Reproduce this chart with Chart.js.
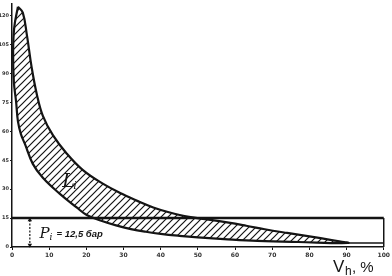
<!DOCTYPE html>
<html>
<head>
<meta charset="utf-8">
<title>Li vs Vh</title>
<script src="https://cdn.jsdelivr.net/npm/chart.js@4"></script>
<style>
  html, body { margin: 0; padding: 0; background: #fff; }
  #wrap { position: relative; width: 392px; height: 276px; }
</style>
</head>
<body>
<div id="wrap"><canvas id="chart"></canvas></div>
<script>
// ============================================================================
// Data
// ============================================================================

// upper / right boundary of the hatched band, from the peak downwards
const OUTER_X = [1.6, 2.9, 4.0, 5.3, 6.7, 8.3, 11.0, 14.7, 19.0, 24.3, 29.7, 34.2, 38.0, 42.2, 47.6, 52.9, 58.3, 63.0, 68.0, 74.0, 80.0, 86.0, 90.4];
const OUTER_Y = [124.6, 121.5, 110.0, 93.0, 79.0, 68.0, 58.0, 48.5, 40.0, 33.0, 27.5, 23.5, 20.5, 18.0, 15.6, 14.2, 12.6, 11.0, 9.2, 7.3, 5.5, 3.6, 2.1];

// lower / left boundary, from the peak downwards
const INNER_X = [1.6, 0.6, 0.3, 0.5, 1.1, 1.6, 2.4, 3.5, 5.6, 8.3, 12.8, 17.4, 20.1, 24.0, 28.0, 32.0, 36.0, 40.0, 45.0, 50.0, 58.0, 66.0, 77.0, 90.4];
const INNER_Y = [124.6, 113.8, 101.0, 85.6, 75.4, 65.1, 58.5, 53.3, 43.1, 35.9, 27.7, 20.5, 16.6, 13.6, 11.2, 9.3, 7.9, 6.8, 5.8, 5.0, 4.0, 3.2, 2.6, 2.1];

// flat tail after the band closes
const TAIL_X = [90.4, 100];
const TAIL_Y = [2.1, 2.1];

// indicated pressure level and its right-hand closing edge
const LEVEL_Y = 15;
const LEVEL_X = [0, 100];

// dimension arrow under the level line
const ARROW_X = 4.8;

const X_TICKS = [0, 10, 20, 30, 40, 50, 60, 70, 80, 90, 100];
const Y_TICKS = [0, 15, 30, 45, 60, 75, 90, 105, 120];

const INK = '#141414';

// ============================================================================
// Helpers
// ============================================================================

const zip = (xs, ys) => xs.map((x, i) => ({ x, y: ys[i] }));

// closed outline: outer curve down, inner curve back up
const bandShape = () => {
    const outer = zip(OUTER_X, OUTER_Y);
    const inner = zip(INNER_X, INNER_Y).reverse().slice(1);
    return outer.concat(inner);
};

const makeHatch = () => {
    const s = 7;
    const c = document.createElement('canvas');
    c.width = s; c.height = s;
    const g = c.getContext('2d');
    g.strokeStyle = INK;
    g.lineWidth = 1.2;
    g.beginPath();
    g.moveTo(0, s); g.lineTo(s, 0);
    g.moveTo(-1, 1); g.lineTo(1, -1);
    g.moveTo(s - 1, s + 1); g.lineTo(s + 1, s - 1);
    g.stroke();
    return g.createPattern(c, 'repeat');
};

// labels drawn in data coordinates
const labelPlugin = {
    id: 'labels',
    afterDatasetsDraw(chart) {
        const { ctx, scales: { x, y } } = chart;
        ctx.save();
        ctx.fillStyle = INK;
        ctx.textBaseline = 'alphabetic';

        // L_i inside the band
        let px = x.getPixelForValue(13.5), py = y.getPixelForValue(31);
        ctx.font = 'italic 19px "DejaVu Serif", serif';
        ctx.fillText('L', px, py);
        ctx.font = 'italic 11px "DejaVu Serif", serif';
        ctx.fillText('i', px + 11, py + 2);

        // P_i = 12,5 бар
        px = x.getPixelForValue(7.4); py = y.getPixelForValue(4.7);
        ctx.font = 'italic 15px "DejaVu Serif", serif';
        ctx.fillText('P', px, py);
        ctx.font = 'italic 9px "DejaVu Serif", serif';
        ctx.fillText('i', px + 10, py + 2);
        ctx.font = 'italic bold 9.5px "Liberation Sans", sans-serif';
        ctx.fillText('= 12,5 бар', px + 17, py - 1);

        // axis title V_h, %
        ctx.font = '17px "Liberation Sans", sans-serif';
        ctx.fillText('V', 333, 272);
        ctx.font = '12px "Liberation Sans", sans-serif';
        ctx.fillText('h', 345, 275);
        ctx.font = '15px "Liberation Sans", sans-serif';
        ctx.fillText(', %', 352, 272);
        ctx.restore();
    }
};

// ============================================================================
// Chart
// ============================================================================

const lineSet = (data, extra = {}) => Object.assign({
    data,
    showLine: true,
    borderColor: INK,
    borderWidth: 2,
    pointRadius: 0,
    fill: false,
    clip: 4,
}, extra);

const init = () => {
    const ctx = document.getElementById('chart').getContext('2d');

    new Chart(ctx, {
        type: 'scatter',
        data: {
            datasets: [
                lineSet(bandShape(), {
                    fill: 'shape',
                    backgroundColor: makeHatch(),
                    tension: 0.4,
                    borderWidth: 2.2,
                }),
                lineSet(zip(TAIL_X, TAIL_Y), { borderWidth: 1.5 }),
                lineSet(zip(LEVEL_X, [LEVEL_Y, LEVEL_Y]), { borderWidth: 2.4 }),
                lineSet(zip([100, 100], [LEVEL_Y, 0]), { borderWidth: 1.5 }),
                lineSet(zip([ARROW_X, ARROW_X], [LEVEL_Y - 1, 1]), {
                    borderWidth: 1.2,
                    borderDash: [2, 1.5],
                    pointRadius: 2.6,
                    pointStyle: 'triangle',
                    pointRotation: [0, 180],
                    pointBackgroundColor: INK,
                    pointBorderWidth: 0,
                }),
            ]
        },
        options: {
            responsive: true,
            maintainAspectRatio: false,
            animation: false,
            events: [],
            layout: { padding: { top: 1, right: 6, left: 0, bottom: 0 } },
            plugins: {
                legend: { display: false },
                tooltip: { enabled: false },
            },
            scales: {
                x: {
                    type: 'linear',
                    min: 0,
                    max: 100,
                    afterBuildTicks: (s) => { s.ticks = X_TICKS.map(v => ({ value: v })); },
                    afterFit: (s) => { s.height = 29; },
                    grid: { display: true, drawOnChartArea: false, tickLength: 3, color: INK },
                    border: { display: true, color: INK, width: 1.5 },
                    ticks: {
                        padding: 2,
                        color: '#333',
                        font: { size: 6, family: '"DejaVu Sans", sans-serif', weight: 'bold' },
                        maxRotation: 0,
                        autoSkip: false,
                    },
                },
                y: {
                    type: 'linear',
                    min: 0,
                    max: 126,
                    afterBuildTicks: (s) => { s.ticks = Y_TICKS.map(v => ({ value: v })); },
                    afterFit: (s) => { s.width = 12; },
                    grid: { display: true, drawOnChartArea: false, tickLength: 2, color: INK },
                    border: { display: true, color: INK, width: 1.5 },
                    ticks: {
                        padding: 1,
                        color: '#333',
                        font: { size: 5, family: '"DejaVu Sans", sans-serif', weight: 'bold' },
                        autoSkip: false,
                    },
                },
            },
        },
        plugins: [labelPlugin],
    });
};

init();
</script>
</body>
</html>
